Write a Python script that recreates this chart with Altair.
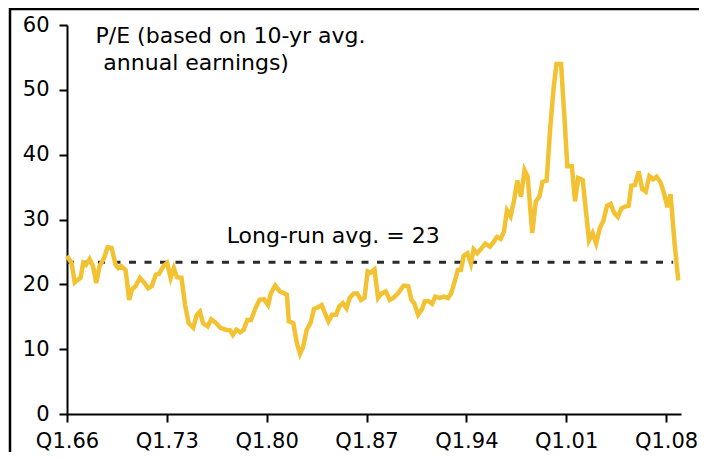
import altair as alt
import pandas as pd

years = [1966.00, 1966.32, 1966.54, 1966.76, 1966.95, 1967.14, 1967.33, 1967.58, 1967.83, 1968.05,
         1968.28, 1968.59, 1968.84, 1969.13, 1969.41, 1969.60, 1969.79, 1970.11, 1970.36, 1970.55,
         1970.80, 1971.12, 1971.44, 1971.69, 1971.94, 1972.23, 1972.45, 1972.76, 1973.02, 1973.27,
         1973.49, 1973.71, 1974.03, 1974.28, 1974.53, 1974.85, 1975.10, 1975.32, 1975.54, 1975.86,
         1976.11, 1976.43, 1976.75, 1977.13, 1977.44, 1977.63, 1977.88, 1978.14, 1978.39, 1978.64,
         1978.90, 1979.21, 1979.50, 1979.81, 1980.10, 1980.29, 1980.60, 1980.92, 1981.23, 1981.42,
         1981.55, 1981.87, 1982.12, 1982.34, 1982.56, 1982.81, 1983.07, 1983.32, 1983.64, 1983.86,
         1984.08, 1984.33, 1984.58, 1984.87, 1985.09, 1985.34, 1985.60, 1985.82, 1986.10, 1986.35,
         1986.61, 1986.86, 1987.08, 1987.30, 1987.56, 1987.81, 1988.06, 1988.35, 1988.63, 1988.88,
         1989.20, 1989.61, 1989.93, 1990.15, 1990.34, 1990.62, 1990.87, 1991.09, 1991.35, 1991.60,
         1991.82, 1992.14, 1992.45, 1992.71, 1992.93, 1993.18, 1993.40, 1993.62, 1993.81, 1994.07,
         1994.32, 1994.51, 1994.76, 1995.01, 1995.33, 1995.65, 1995.90, 1996.15, 1996.40, 1996.63,
         1996.85, 1997.10, 1997.35, 1997.57, 1997.83, 1998.08, 1998.30, 1998.62, 1998.87, 1999.12,
         1999.34, 1999.63, 1999.88, 2000.13, 2000.32, 2000.64, 2000.89, 2001.08, 2001.40, 2001.62,
         2001.84, 2002.16, 2002.35, 2002.60, 2002.85, 2003.10, 2003.36, 2003.61, 2003.86, 2004.12,
         2004.37, 2004.62, 2004.87, 2005.13, 2005.38, 2005.57, 2005.82, 2006.08, 2006.33, 2006.58,
         2006.83, 2007.09, 2007.34, 2007.62, 2007.85, 2008.10, 2008.32, 2008.60, 2008.86]

pe_values = [24.4, 23.3, 20.3, 20.7, 21.0, 23.3, 23.0, 23.9, 22.8, 20.2,
             22.8, 24.0, 25.7, 25.6, 23.0, 22.5, 22.8, 22.2, 17.6, 19.2,
             19.7, 21.0, 20.2, 19.4, 19.7, 21.5, 21.6, 22.8, 23.3, 21.0,
             22.5, 21.1, 21.0, 16.8, 14.0, 13.3, 15.3, 15.8, 14.0, 13.5,
             14.6, 14.1, 13.3, 13.0, 12.9, 12.2, 13.0, 12.6, 13.0, 14.5,
             14.5, 16.3, 17.6, 17.7, 16.8, 18.6, 19.8, 18.9, 18.6, 18.4,
             14.3, 14.0, 10.9, 9.3, 10.4, 13.0, 14.0, 16.2, 16.5, 16.8,
             15.6, 14.3, 15.3, 15.3, 16.6, 17.1, 16.3, 17.9, 18.6, 18.6,
             17.6, 17.9, 22.0, 21.8, 22.3, 17.9, 18.6, 18.9, 17.6, 17.9,
             18.6, 19.8, 19.7, 17.6, 17.1, 15.3, 16.1, 17.4, 17.4, 17.0,
             18.1, 17.9, 18.1, 17.9, 18.6, 20.4, 22.2, 22.2, 24.4, 24.8,
             23.2, 25.4, 24.8, 25.4, 26.3, 25.8, 26.5, 27.3, 27.0, 28.1,
             31.4, 30.5, 33.0, 36.0, 33.5, 37.6, 36.6, 27.9, 32.8, 33.5,
             35.8, 36.0, 44.1, 50.5, 54.0, 54.0, 45.3, 38.2, 38.2, 32.8,
             36.4, 36.1, 32.0, 26.8, 27.9, 26.3, 28.7, 29.8, 32.1, 32.4,
             31.0, 30.4, 31.7, 32.0, 32.1, 35.2, 35.3, 37.4, 34.7, 34.3,
             36.7, 36.2, 36.6, 35.7, 34.1, 31.9, 33.9, 26.3, 20.6]

avg_value = 23.4
avg_span = [1966.0, 2008.5]
x_ticks = [1966, 1973, 1980, 1987, 1994, 2001, 2008]
y_ticks = [0, 10, 20, 30, 40, 50, 60]

note_texts = ["P/E (based on 10-yr avg.", "annual earnings)"]
note_x = [1968.0, 1968.55]
note_y = [57.2, 53.1]
avg_label = "Long-run avg. = 23"
avg_label_pos = [1977.2, 26.4]

FONT = "DejaVu Sans"
LINE_COLOR = "#F3C233"

df = pd.DataFrame({"year": years, "pe": pe_values})
avg_df = pd.DataFrame({"x": [avg_span[0]], "x2": [avg_span[1]], "y": [avg_value]})
note_df = pd.DataFrame({"x": note_x + [avg_label_pos[0]],
                        "y": note_y + [avg_label_pos[1]],
                        "t": note_texts + [avg_label]})

xscale = alt.Scale(domain=[1966, 2009.05], nice=False, zero=False)
yscale = alt.Scale(domain=[0, 60], nice=False)

line = alt.Chart(df).mark_line(color=LINE_COLOR, strokeWidth=4.5, strokeJoin="miter").encode(
    x=alt.X("year:Q", scale=xscale,
            axis=alt.Axis(values=x_ticks, title=None, grid=False,
                          labelExpr="'Q1.' + substring(toString(datum.value), 2)",
                          labelFlush=False, labelOverlap=False, labelPadding=8)),
    y=alt.Y("pe:Q", scale=yscale,
            axis=alt.Axis(values=y_ticks, title=None, grid=False, labelPadding=10,
                          labelFlush=False, labelOverlap=False)),
)

avg = alt.Chart(avg_df).mark_rule(color="#2b2b2b", strokeWidth=3, strokeDash=[7, 8.5]).encode(
    x="x:Q", x2="x2:Q", y="y:Q"
)

notes = alt.Chart(note_df).mark_text(
    align="left", baseline="alphabetic", font=FONT, fontSize=22, color="black"
).encode(x="x:Q", y="y:Q", text="t:N")

frame = alt.Chart(alt.Data(values=[{"a": 1}])).mark_rect(
    filled=False, stroke="black", strokeWidth=2.5
).encode(x=alt.value(-57), y=alt.value(-16), x2=alt.value(900), y2=alt.value(900))

chart = alt.layer(frame, avg, line, notes).properties(
    width=614, height=389,
    autosize=alt.AutoSizeParams(type="none"),
    padding={"left": 59, "top": 17, "right": 18, "bottom": 38},
).configure_view(stroke=None).configure_axis(
    domainColor="black", domainWidth=2, tickColor="black", tickWidth=2, tickSize=8,
    labelColor="black", labelFont=FONT, labelFontSize=21,
)

chart.save("out.html", embed_options={"renderer": "svg", "actions": False})
